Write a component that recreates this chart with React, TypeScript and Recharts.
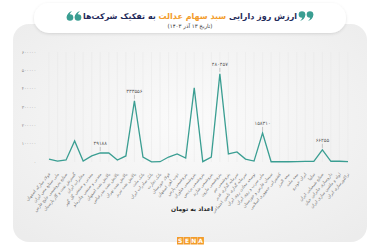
import React from "react";
import { LineChart, Line, XAxis, YAxis, CartesianGrid, LabelList } from "recharts";

const companies: string[] = [
  "فولاد مبارکه اصفهان", "ملی صنایع مس ایران", "صنایع پتروشیمی خلیج فارس", "گسترش نفت و گاز پارسیان",
  "مخابرات ایران", "معدنی و صنعتی گل گهر", "معدنی و صنعتی چادرملو", "پالایش نفت اصفهان",
  "پالایش نفت بندرعباس", "پالایش نفت تهران", "پالایش نفت تبریز", "بانک ملت",
  "بانک صادرات ایران", "بانک تجارت", "فولاد خوزستان", "ذوب آهن اصفهان",
  "پتروشیمی پارس", "پتروشیمی فناوران", "پتروشیمی پردیس", "پتروشیمی شازند",
  "پتروشیمی مارون", "پتروشیمی جم", "سرمایه گذاری غدیر", "سرمایه گذاری تامین اجتماعی",
  "توسعه معادن روی ایران", "ملی سرب و روی ایران", "سیمان فارس و خوزستان", "کشتیرانی جمهوری اسلامی",
  "بیمه البرز", "بیمه ملت", "ایران خودرو", "سایپا",
  "صنایع شیمیایی ایران", "داروسازی جابرابن حیان", "لوله و ماشین سازی ایران", "تراکتورسازی ایران",
];

const values: number[] = [
  16000, 5000, 11000, 115000, 5000, 33000, 49188, 49000,
  11000, 33000, 333556, 27000, 1000, 1500, 27000, 44000,
  22000, 404000, 2000, 27000, 480457, 44000, 55000, 16000,
  5000, 158310, 1500, 1500, 1500, 2000, 3000, 3000,
  66255, 4000, 4000, 1500,
];

const annotated: number[] = [6, 10, 20, 25, 32];
const yTicks: number[] = [0, 100000, 200000, 300000, 400000, 500000, 600000];

const data = companies.map((name, i) => ({ name, value: values[i], idx: i }));

const fa = (n: number | string) => String(n).replace(/\d/g, (d) => "۰۱۲۳۴۵۶۷۸۹"[Number(d)]);

const FONT = "'DejaVu Sans', sans-serif";

const XTick = (props: any) => {
  const { x, y, payload } = props;
  return (
    <g transform={`translate(${x},${y + 3})`}>
      <text transform="rotate(-50)" textAnchor="end" fontSize={4.2} fill="#7a7a7a" fontFamily={FONT} dy={2}>
        {payload.value}
      </text>
    </g>
  );
};

const YTick = (props: any) => {
  const { x, y, payload } = props;
  return (
    <text x={x} y={y} dy={1.5} textAnchor="end" fontSize={4.4} fill="#8a8a8a" fontFamily={FONT}>
      {fa(payload.value)}
    </text>
  );
};

const PeakLabel = (props: any) => {
  const { x, y, value, index } = props;
  if (!annotated.includes(index)) return null;
  return (
    <g>
      <line x1={x} x2={x} y1={y - 2} y2={y - 6} stroke="#9a9a9a" strokeWidth={0.5} />
      <text x={x} y={y - 8} textAnchor="middle" fontSize={5} fill="#555" fontFamily={FONT}>
        {fa(value)}
      </text>
    </g>
  );
};

const Quote = ({ x, y, flip }: { x: number; y: number; flip: boolean }) => {
  // decorative quotation glyph made of two heads with tails
  const one = (cx: number) =>
    flip ? (
      <g>
        <circle cx={cx} cy={y - 1.5} r={3.3} fill="#3a9e92" />
        <path d={`M ${cx + 3.3} ${y - 1.5} Q ${cx + 3} ${y + 3.5} ${cx - 2} ${y + 5} Q ${cx + 1} ${y + 2} ${cx} ${y + 1}`} fill="#3a9e92" />
      </g>
    ) : (
      <g>
        <circle cx={cx} cy={y + 1.5} r={3.3} fill="#3a9e92" />
        <path d={`M ${cx - 3.3} ${y + 1.5} Q ${cx - 3} ${y - 3.5} ${cx + 2} ${y - 5} Q ${cx - 1} ${y - 2} ${cx} ${y - 1}`} fill="#3a9e92" />
      </g>
    );
  return (
    <g>
      {one(x - 4)}
      {one(x + 4)}
    </g>
  );
};

export default function App() {
  return (
    <div style={{ position: "fixed", left: 0, top: 0, width: 380, height: 252, background: "#ffffff", overflow: "hidden", fontFamily: FONT }}>
      <svg width={380} height={252} style={{ position: "absolute", left: 0, top: 0 }}>
        <defs>
          <radialGradient id="cardg" cx="50%" cy="45%" r="70%">
            <stop offset="0%" stopColor="#fbfbfb" />
            <stop offset="100%" stopColor="#ececec" />
          </radialGradient>
          <filter id="sh" x="-10%" y="-30%" width="120%" height="160%">
            <feDropShadow dx="0" dy="1" stdDeviation="1.5" floodColor="#000" floodOpacity="0.12" />
          </filter>
        </defs>
        <rect x={13} y={24} width={354} height={218} rx={16} fill="url(#cardg)" />
        <rect x={34} y={3} width={312} height={30} rx={15} fill="#ffffff" filter="url(#sh)" />
        <g>
          <rect x={177} y={237} width={6.5} height={7.5} fill="#f39c2b" />
          <rect x={183.8} y={237} width={6.5} height={7.5} fill="#f39c2b" />
          <rect x={190.6} y={237} width={6.5} height={7.5} fill="#f39c2b" />
          <rect x={197.4} y={237} width={6.5} height={7.5} fill="#f39c2b" />
          <text x={180.2} y={243} textAnchor="middle" fontSize={6} fontWeight="bold" fill="#fff" fontFamily={FONT}>S</text>
          <text x={187} y={243} textAnchor="middle" fontSize={6} fontWeight="bold" fill="#fff" fontFamily={FONT}>E</text>
          <text x={193.8} y={243} textAnchor="middle" fontSize={6} fontWeight="bold" fill="#fff" fontFamily={FONT}>N</text>
          <text x={200.6} y={243} textAnchor="middle" fontSize={6} fontWeight="bold" fill="#fff" fontFamily={FONT}>A</text>
        </g>
        <Quote x={74} y={16} flip={false} />
        <Quote x={306} y={16} flip={true} />
        <text x={190} y={19} textAnchor="middle" fontSize={8} fontWeight="bold" fill="#1f2a5a" fontFamily={FONT} direction="rtl">
          <tspan>ارزش روز دارایی </tspan>
          <tspan fill="#f39c2b">سبد سهام عدالت</tspan>
          <tspan> به تفکیک شرکت‌ها</tspan>
        </text>
        <text x={190} y={28} textAnchor="middle" fontSize={5.5} fill="#333" fontFamily={FONT} direction="rtl">
          (تاریخ ۱۳ آذر ۱۴۰۳)
        </text>
        <text x={192} y={211} textAnchor="middle" fontSize={6} fontWeight="bold" fill="#222" fontFamily={FONT} direction="rtl">
          اعداد به تومان
        </text>
      </svg>
      <div style={{ position: "absolute", left: 0, top: 0 }}>
        <LineChart width={380} height={252} data={data} margin={{ top: 52, right: 32, bottom: 30, left: 0 }}>
          <CartesianGrid horizontal={false} vertical={true} stroke="#e9e9e9" strokeWidth={0.6} />
          <XAxis dataKey="name" interval={0} tick={<XTick />} tickLine={false} axisLine={false} height={60} />
          <YAxis domain={[0, 600000]} ticks={yTicks} interval={0} tick={<YTick />} tickLine={false} axisLine={false} width={49} tickMargin={7} />
          <Line type="linear" dataKey="value" stroke="#3a9e92" strokeWidth={1.3} dot={false} isAnimationActive={false}>
            <LabelList dataKey="value" content={<PeakLabel />} />
          </Line>
        </LineChart>
      </div>
    </div>
  );
}
